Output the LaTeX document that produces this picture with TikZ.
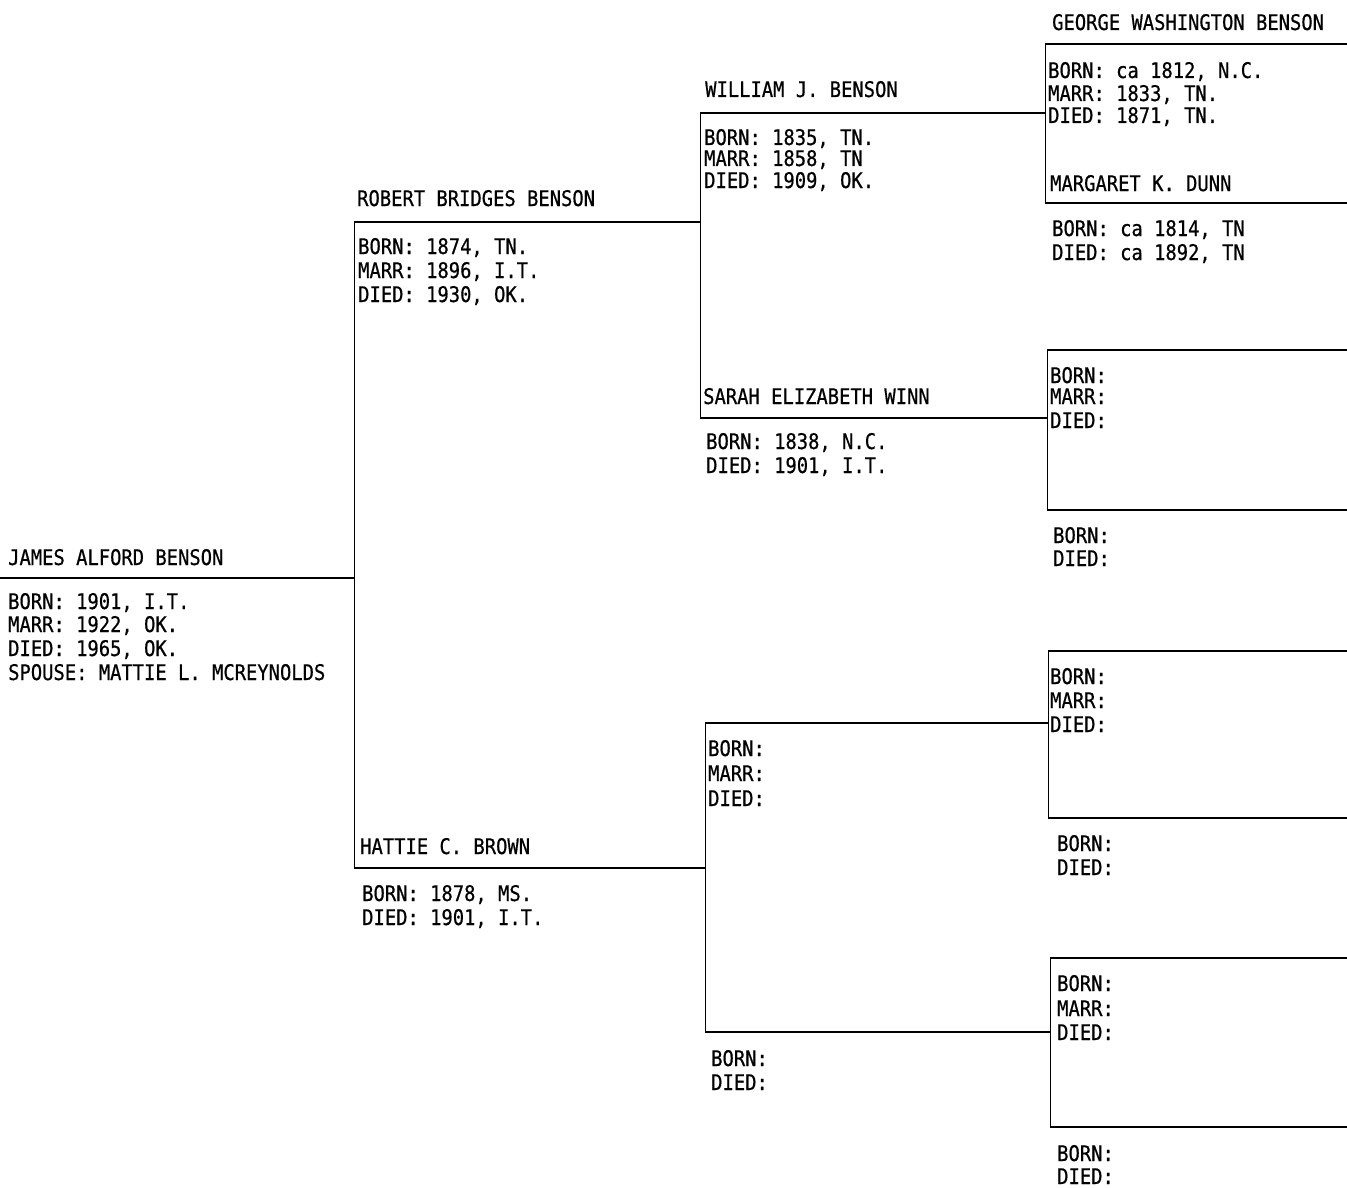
\documentclass[tikz,border=0pt]{standalone}
\usepackage{fontspec}
\newfontfamily\dotfont[FakeStretch=0.875,FakeBold=0.6]{DejaVu Sans Mono}
\begin{document}
\begin{tikzpicture}[x=1pt,y=-1pt,
  txt/.style={anchor=base west,inner sep=0pt,font=\dotfont\fontsize{21.5}{24}\selectfont},
  hline/.style={line width=1.8pt},
  vline/.style={line width=1pt}]
\useasboundingbox (0,0) rectangle (1347,1188);
% ---------- coordinates ----------
\coordinate (jL) at (0,578);
\coordinate (jR) at (354,578);
\coordinate (rL) at (354,222);
\coordinate (rR) at (700,222);
\coordinate (hL) at (354,868);
\coordinate (hR) at (705,868);
\coordinate (wL) at (700,113);
\coordinate (wR) at (1045,113);
\coordinate (sL) at (700,418);
\coordinate (sR) at (1047,418);
\coordinate (uL) at (705,723);
\coordinate (uR) at (1048,723);
\coordinate (dL) at (705,1032);
\coordinate (dR) at (1050,1032);
\coordinate (b1t) at (1045,44);  \coordinate (b1tr) at (1347,44);
\coordinate (b1b) at (1045,203); \coordinate (b1br) at (1347,203);
\coordinate (b2t) at (1047,350); \coordinate (b2tr) at (1347,350);
\coordinate (b2b) at (1047,510); \coordinate (b2br) at (1347,510);
\coordinate (b3t) at (1048,651); \coordinate (b3tr) at (1347,651);
\coordinate (b3b) at (1048,818); \coordinate (b3br) at (1347,818);
\coordinate (b4t) at (1050,958); \coordinate (b4tr) at (1347,958);
\coordinate (b4b) at (1050,1127);\coordinate (b4br) at (1347,1127);
% ---------- lines ----------
\draw[hline] (jL) -- (jR);
\draw[vline] (rL) -- (hL);
\draw[hline] (rL) -- (rR);
\draw[hline] (hL) -- (hR);
\draw[vline] (wL) -- (sL);
\draw[hline] (wL) -- (wR);
\draw[hline] (sL) -- (sR);
\draw[vline] (uL) -- (dL);
\draw[hline] (uL) -- (uR);
\draw[hline] (dL) -- (dR);
\draw[hline] (b1tr) -- (b1t);
\draw[vline] (b1t) -- (b1b);
\draw[hline] (b1b) -- (b1br);
\draw[hline] (b2tr) -- (b2t);
\draw[vline] (b2t) -- (b2b);
\draw[hline] (b2b) -- (b2br);
\draw[hline] (b3tr) -- (b3t);
\draw[vline] (b3t) -- (b3b);
\draw[hline] (b3b) -- (b3br);
\draw[hline] (b4tr) -- (b4t);
\draw[vline] (b4t) -- (b4b);
\draw[hline] (b4b) -- (b4br);
% ---------- James ----------
\node[txt] (jn) at (8,565) {JAMES ALFORD BENSON};
\node[txt] (jb) at (8,609) {BORN: 1901, I.T.};
\node[txt] (jm) at (8,632) {MARR: 1922, OK.};
\node[txt] (jd) at (8,656) {DIED: 1965, OK.};
\node[txt] (js) at (8,680) {SPOUSE: MATTIE L. MCREYNOLDS};
% ---------- Robert ----------
\node[txt] (rn) at (357,206) {ROBERT BRIDGES BENSON};
\node[txt] (rb) at (358,254) {BORN: 1874, TN.};
\node[txt] (rm) at (358,278) {MARR: 1896, I.T.};
\node[txt] (rd) at (358,302) {DIED: 1930, OK.};
% ---------- Hattie ----------
\node[txt] (hn) at (360,854) {HATTIE C. BROWN};
\node[txt] (hb) at (362,901) {BORN: 1878, MS.};
\node[txt] (hd) at (362,925) {DIED: 1901, I.T.};
% ---------- William ----------
\node[txt] (wn) at (705,97) {WILLIAM J. BENSON};
\node[txt] (wb) at (704,145) {BORN: 1835, TN.};
\node[txt] (wm) at (704,166) {MARR: 1858, TN};
\node[txt] (wd) at (704,188) {DIED: 1909, OK.};
% ---------- Sarah ----------
\node[txt] (sn) at (703,404) {SARAH ELIZABETH WINN};
\node[txt] (sb) at (706,449) {BORN: 1838, N.C.};
\node[txt] (sd) at (706,473) {DIED: 1901, I.T.};
% ---------- lower gen 3 ----------
\node[txt] (ub) at (708,756) {BORN:};
\node[txt] (um) at (708,781) {MARR:};
\node[txt] (ud) at (708,806) {DIED:};
\node[txt] (db) at (711,1066) {BORN:};
\node[txt] (dd) at (711,1090) {DIED:};
% ---------- box 1 ----------
\node[txt] (gn) at (1052,30) {GEORGE WASHINGTON BENSON};
\node[txt] (gb) at (1048,78) {BORN: ca 1812, N.C.};
\node[txt] (gm) at (1048,101) {MARR: 1833, TN.};
\node[txt] (gd) at (1048,123) {DIED: 1871, TN.};
\node[txt] (mn) at (1050,191) {MARGARET K. DUNN};
\node[txt] (mb) at (1052,236) {BORN: ca 1814, TN};
\node[txt] (md) at (1052,260) {DIED: ca 1892, TN};
% ---------- box 2 ----------
\node[txt] (x2b) at (1050,383) {BORN:};
\node[txt] (x2m) at (1050,404) {MARR:};
\node[txt] (x2d) at (1050,428) {DIED:};
\node[txt] (y2b) at (1053,543) {BORN:};
\node[txt] (y2d) at (1053,566) {DIED:};
% ---------- box 3 ----------
\node[txt] (x3b) at (1050,684) {BORN:};
\node[txt] (x3m) at (1050,708) {MARR:};
\node[txt] (x3d) at (1050,732) {DIED:};
\node[txt] (y3b) at (1057,851) {BORN:};
\node[txt] (y3d) at (1057,875) {DIED:};
% ---------- box 4 ----------
\node[txt] (x4b) at (1057,991) {BORN:};
\node[txt] (x4m) at (1057,1016) {MARR:};
\node[txt] (x4d) at (1057,1040) {DIED:};
\node[txt] (y4b) at (1057,1161) {BORN:};
\node[txt] (y4d) at (1057,1184) {DIED:};
\end{tikzpicture}
\end{document}
